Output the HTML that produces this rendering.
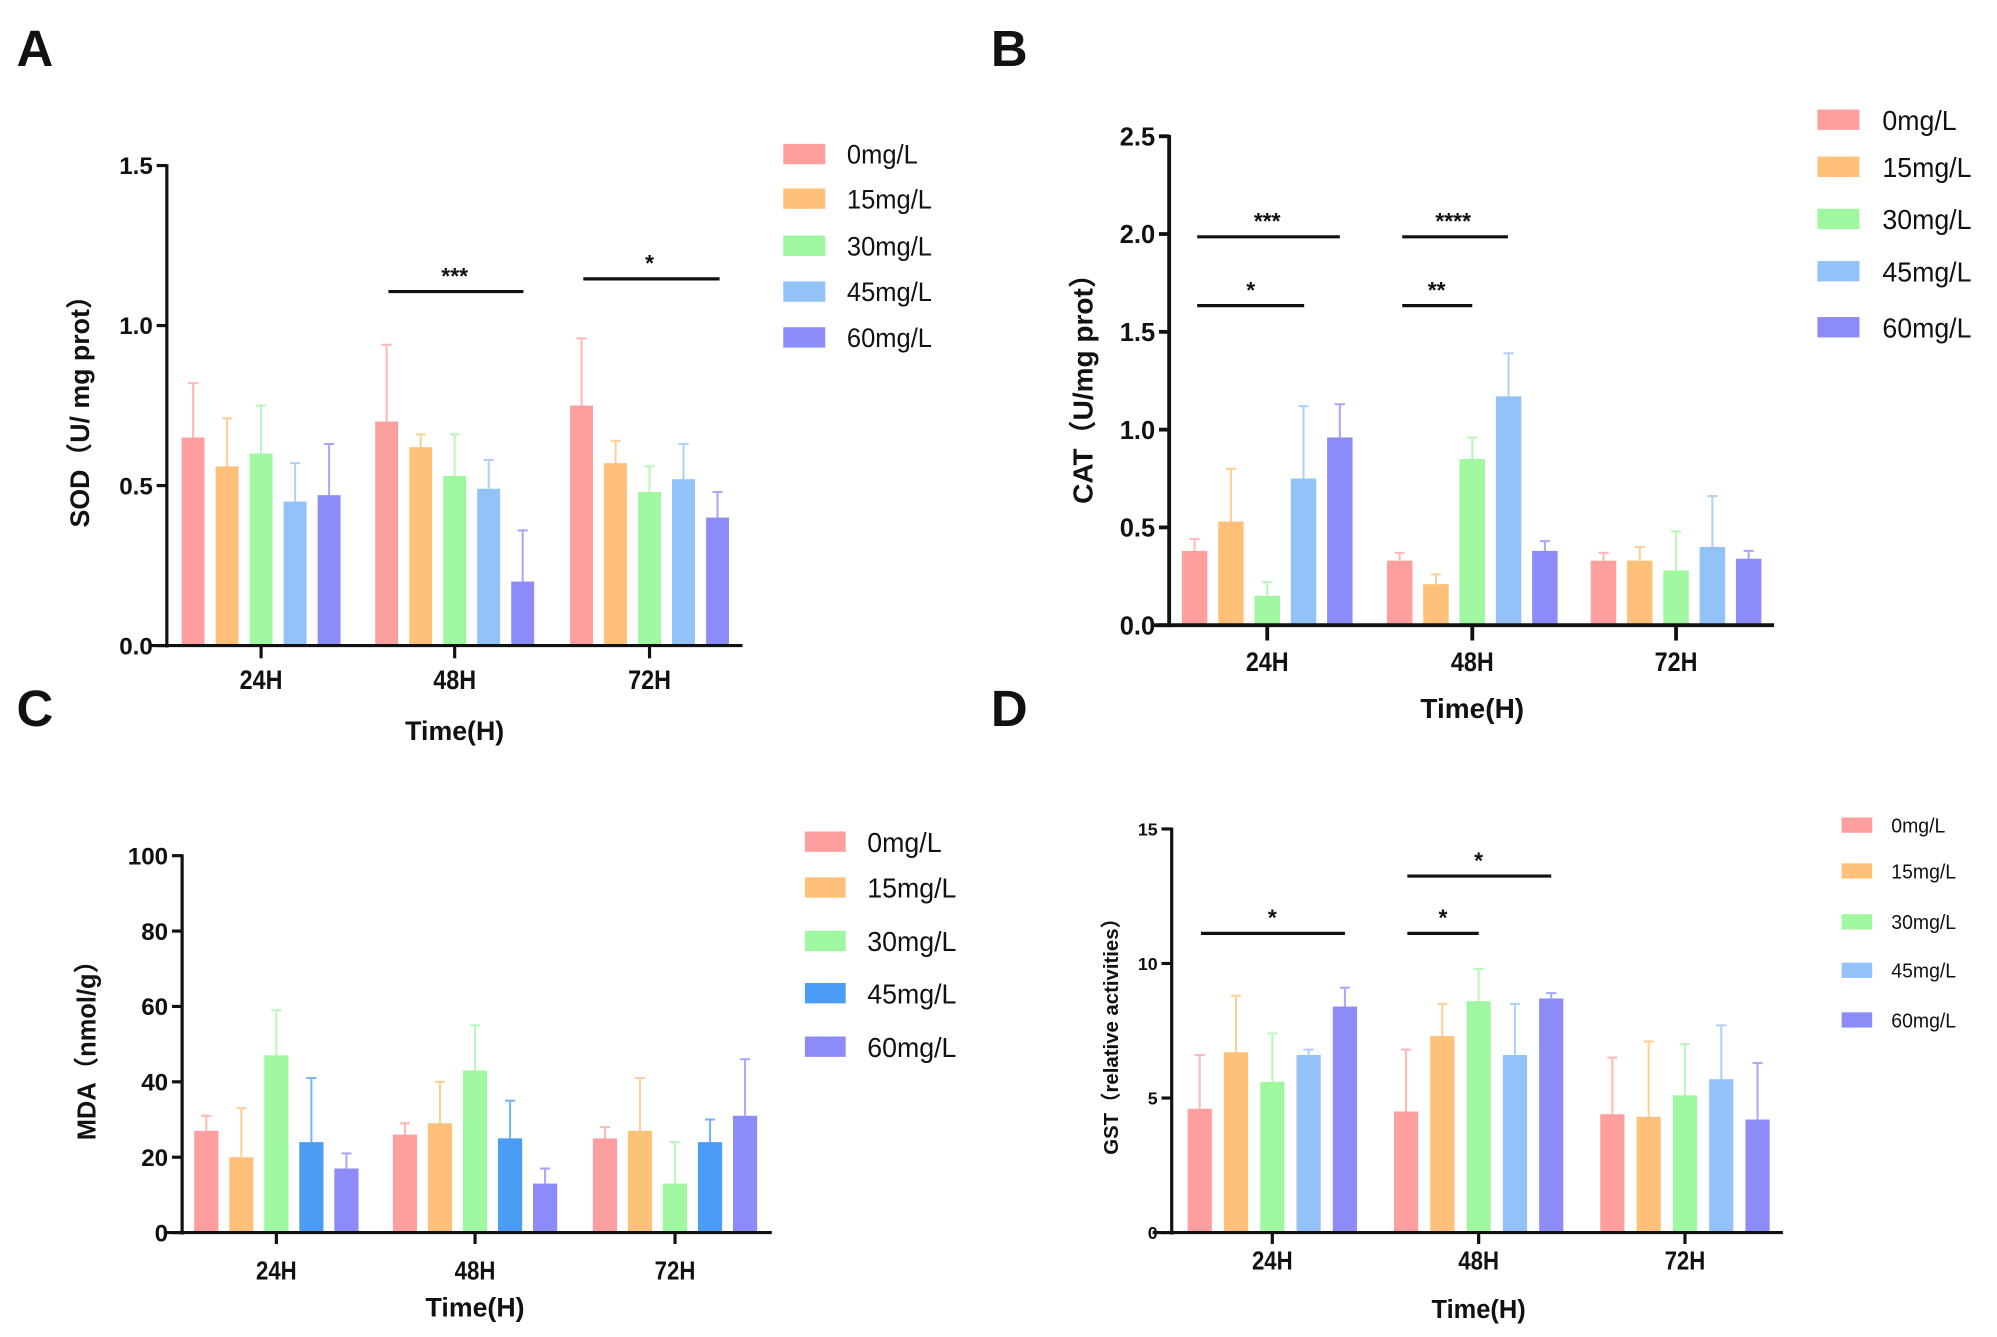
<!DOCTYPE html>
<html><head><meta charset="utf-8"><style>
html,body{margin:0;padding:0;background:#fff;}
svg{display:block;font-family:"Liberation Sans","Noto Sans CJK SC",sans-serif;}
</style></head><body>
<svg id="fig" width="1997" height="1337" viewBox="0 0 1568 1050" preserveAspectRatio="none" xmlns="http://www.w3.org/2000/svg"></svg>
<script>
const groups = ["24H","48H","72H"];
const seriesNames = ["0mg/L","15mg/L","30mg/L","45mg/L","60mg/L"];
const sodMeans = [[0.65,0.56,0.60,0.45,0.47],[0.70,0.62,0.53,0.49,0.20],[0.75,0.57,0.48,0.52,0.40]];
const sodErrs  = [[0.82,0.71,0.75,0.57,0.63],[0.94,0.66,0.66,0.58,0.36],[0.96,0.64,0.56,0.63,0.48]];
const sodTicks = ["0.0","0.5","1.0","1.5"];
const catMeans = [[0.38,0.53,0.15,0.75,0.96],[0.33,0.21,0.85,1.17,0.38],[0.33,0.33,0.28,0.40,0.34]];
const catErrs  = [[0.44,0.80,0.22,1.12,1.13],[0.37,0.26,0.96,1.39,0.43],[0.37,0.40,0.48,0.66,0.38]];
const catTicks = ["0.0","0.5","1.0","1.5","2.0","2.5"];
const mdaMeans = [[27,20,47,24,17],[26,29,43,25,13],[25,27,13,24,31]];
const mdaErrs  = [[31,33,59,41,21],[29,40,55,35,17],[28,41,24,30,46]];
const mdaTicks = ["0","20","40","60","80","100"];
const gstMeans = [[4.6,6.7,5.6,6.6,8.4],[4.5,7.3,8.6,6.6,8.7],[4.4,4.3,5.1,5.7,4.2]];
const gstErrs  = [[6.6,8.8,7.4,6.8,9.1],[6.8,8.5,9.8,8.5,8.9],[6.5,7.1,7.0,7.7,6.3]];
const gstTicks = ["0","5","10","15"];

const NS="http://www.w3.org/2000/svg";
const svg=document.getElementById('fig');
function mk(tag,attrs,parent){const e=document.createElementNS(NS,tag);for(const k in attrs)e.setAttribute(k,attrs[k]);(parent||svg).appendChild(e);return e;}
function txt(s,x,y,size,anchor,weight,parent,extra){const t=mk('text',Object.assign({x:x,y:y,'font-size':size,'text-anchor':anchor||'middle','font-weight':weight||'bold',fill:'#111'},extra||{}),parent);t.textContent=s;return t;}

const colorsStd=["#ff9e9e","#ffc07a","#9ff79f","#92c2f8","#8c8cf8"];
const errStd=["#ffb8b8","#ffcf96","#b8f8b8","#aed0fa","#a8a8fa"];

function panel(cfg){
  const g=mk('g',{});
  
  
  const ymax=cfg.tickVals[cfg.tickVals.length-1];
  const Y=v=>cfg.y0-(v/ymax)*(cfg.y0-cfg.ytop);
  const gx=i=>cfg.centers[i];
  for(let gi=0;gi<groups.length;gi++){
    for(let s=0;s<5;s++){
      const cx=gx(gi)+(s-2)*cfg.pitch;
      const v=cfg.means[gi][s], e=cfg.errs[gi][s];
      const col=cfg.colors[s];
      const el=mk('line',{x1:cx,x2:cx,y1:Y(v),y2:Y(e),stroke:cfg.errColors[s],'stroke-width':1.6},g);
      
      
      const cap=mk('line',{x1:cx-4,x2:cx+4,y1:Y(e),y2:Y(e),stroke:cfg.errColors[s],'stroke-width':1.6},g);
      
      
      const r=mk('rect',{x:cx-cfg.bw/2,y:Y(v),width:cfg.bw,height:cfg.y0-Y(v),fill:col},g);
      
      
    }
  }
  const ya=mk('line',{x1:cfg.x0,x2:cfg.x0,y1:cfg.ytop-1,y2:cfg.y0+1.5,stroke:'#111','stroke-width':cfg.aw},g);
  
  
  const xa=mk('line',{x1:cfg.xl,x2:cfg.xr,y1:cfg.y0,y2:cfg.y0,stroke:'#111','stroke-width':cfg.aw},g);
  
  
  cfg.tickVals.forEach((tv,i)=>{
    const y=Y(tv);
    mk('line',{x1:cfg.x0-8,x2:cfg.x0,y1:y,y2:y,stroke:'#111','stroke-width':cfg.aw},g);
    const t=txt(cfg.ticks[i],cfg.x0-11,y+cfg.tfs*0.36,cfg.tfs,'end','bold',g);
    
    
  });
  groups.forEach((gn,i)=>{
    mk('line',{x1:gx(i),x2:gx(i),y1:cfg.y0,y2:cfg.y0+cfg.tickLen,stroke:'#111','stroke-width':cfg.aw},g);
    const t=txt(gn,gx(i),cfg.xlabY,cfg.xfs,'middle','bold',g,{'textLength':cfg.xfs*1.6,'lengthAdjust':'spacingAndGlyphs'});
    
    
  });
  const xt=txt('Time(H)',cfg.centers[1],cfg.titleY,cfg.tifs,'middle','bold',g,{'textLength':cfg.tifs*3.7,'lengthAdjust':'spacingAndGlyphs'});
  
  
  const yt=txt(cfg.ylabel,0,0,cfg.yfs,'middle','bold',g,{transform:`translate(${cfg.ylx},${cfg.lyc}) rotate(-90)`});
  
  
  cfg.sig.forEach(sg=>{
    const l=mk('line',{x1:sg[0],x2:sg[1],y1:sg[2],y2:sg[2],stroke:'#111','stroke-width':2.5},g);
    
    
    const t=txt(sg[3],sg[4],sg[2]-6,18,'middle','bold',g);
    
    
  });
  seriesNames.forEach((n,i)=>{
    const ly=cfg.legY[i];
    const r=mk('rect',{x:cfg.legX,y:ly-cfg.sh/2,width:cfg.sw,height:cfg.sh,fill:cfg.colors[i]},g);
    
    
    const t=txt(n,cfg.legTX,ly+cfg.lfs*0.36,cfg.lfs,'start','normal',g,{'textLength':cfg.lfs*(n.length*0.53),'lengthAdjust':'spacingAndGlyphs'});
    
    
  });
  const L=txt(cfg.letter,cfg.letterX,cfg.letterY,40,'start','bold',g);
  
  
}

panel({name:'sod-panel',letter:'A',letterX:13,letterY:52,means:sodMeans,errs:sodErrs,ticks:sodTicks,tickVals:[0,0.5,1.0,1.5],
  x0:131,xl:118,xr:583,y0:507,ytop:130,centers:[205,357,510],pitch:26.7,bw:18,aw:2.5,tickLen:10,
  tfs:19,xfs:21,xlabY:541,titleY:581,tifs:21,ylabel:'SOD（U/ mg prot）',ylx:70,lyc:318,yfs:21,
  sig:[[305,411,229,'***',357],[458,565,219,'*',510]],
  legX:615,legTX:665,legY:[121,156,193,229,265],sw:33,sh:16,lfs:21,colors:colorsStd,errColors:errStd});
panel({name:'cat-panel',letter:'B',letterX:778,letterY:52,means:catMeans,errs:catErrs,ticks:catTicks,tickVals:[0,0.5,1.0,1.5,2.0,2.5],
  x0:918,xl:905,xr:1393,y0:491,ytop:107,centers:[995,1156,1316],pitch:28.5,bw:20,aw:3,tickLen:12,
  tfs:20,xfs:21,xlabY:527,titleY:564,tifs:22,ylabel:'CAT（U/mg prot）',ylx:858,lyc:300,yfs:22,
  sig:[[940,1052,186,'***',995],[940,1024,240,'*',982],[1101,1184,186,'****',1141],[1101,1156,240,'**',1128]],
  legX:1427,legTX:1478,legY:[94,131,172,213,257],sw:33,sh:16,lfs:22,colors:colorsStd,errColors:errStd});
panel({name:'mda-panel',letter:'C',letterX:13,letterY:570,means:mdaMeans,errs:mdaErrs,ticks:mdaTicks,tickVals:[0,20,40,60,80,100],
  x0:143,xl:130,xr:606,y0:968,ytop:672,centers:[217,373,530],pitch:27.5,bw:19,aw:2.5,tickLen:9,
  tfs:19,xfs:20,xlabY:1005,titleY:1034,tifs:21,ylabel:'MDA（nmol/g）',ylx:75,lyc:820,yfs:20,
  sig:[],legX:632,legTX:681,legY:[661,697,739,780,822],sw:32,sh:16,lfs:22,
  colors:["#ff9e9e","#ffc07a","#9ff79f","#4a9cf5","#8c8cf8"],errColors:["#ffb8b8","#ffcf96","#b8f8b8","#78b4f7","#a8a8fa"]});
panel({name:'gst-panel',letter:'D',letterX:778,letterY:570,means:gstMeans,errs:gstErrs,ticks:gstTicks,tickVals:[0,5,10,15],
  x0:920,xl:905,xr:1400,y0:968,ytop:651,centers:[999,1161,1323],pitch:28.5,bw:19,aw:2.5,tickLen:9,
  tfs:14,xfs:20,xlabY:997,titleY:1035,tifs:20,ylabel:'GST（relative activities）',ylx:878,lyc:810,yfs:16,
  sig:[[943,1056,733,'*',999],[1105,1218,688,'*',1161],[1105,1161,733,'*',1133]],
  legX:1446,legTX:1485,legY:[648,684,724,762,801],sw:24,sh:12,lfs:16,colors:colorsStd,errColors:errStd});
</script>
</body></html>
